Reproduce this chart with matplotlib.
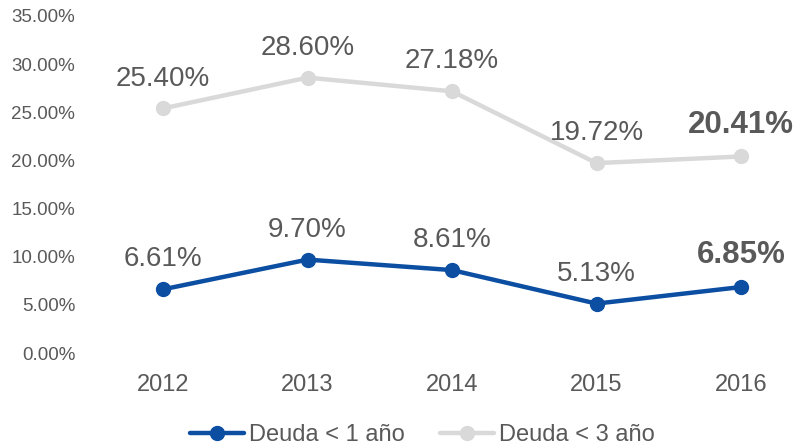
import matplotlib
matplotlib.use("Agg")
import matplotlib.pyplot as plt

years = ["2012", "2013", "2014", "2015", "2016"]
deuda_1 = [6.61, 9.70, 8.61, 5.13, 6.85]
deuda_3 = [25.40, 28.60, 27.18, 19.72, 20.41]
yticks = [0, 5, 10, 15, 20, 25, 30, 35]

plt.rcParams['font.family'] = ['Liberation Sans', 'DejaVu Sans']
txt = '#595959'
blue = '#0B4EA2'
gray = '#D9D9D9'

W, H = 798, 445
fig = plt.figure(figsize=(W / 100, H / 100), dpi=100)
left_px, right_px, top_px, bot_px = 85, 798, 16, 353
ax = fig.add_axes([left_px / W, (H - bot_px) / H, (right_px - left_px) / W, (bot_px - top_px) / H])

x = list(range(len(years)))
ax.plot(x, deuda_1, color=blue, lw=3.2, marker='o', ms=10, solid_capstyle='round', label='Deuda < 1 año', zorder=3)
ax.plot(x, deuda_3, color=gray, lw=3.2, marker='o', ms=10, solid_capstyle='round', label='Deuda < 3 año', zorder=3)

for series in (deuda_1, deuda_3):
    for i, v in enumerate(series):
        bold = (i == len(series) - 1)
        ax.annotate(f"{v:.2f}%", (i, v), xytext=(0, 17 if bold else 16.5), textcoords='offset points',
                    ha='center', va='baseline', fontsize=22.5 if bold else 20, color=txt,
                    fontweight='bold' if bold else 'normal')

step = 144.5
ax.set_xlim(-(163 - left_px) / step, (right_px - 163) / step)
ax.set_ylim(0, 35)
ax.set_xticks(x)
ax.set_xticklabels(years, fontsize=17, color=txt)
ax.set_yticks(yticks)
ax.set_yticklabels([f"{t:.2f}%" for t in yticks], fontsize=13.5, color=txt)
ax.tick_params(axis='x', length=0, pad=15)
ax.tick_params(axis='y', length=0, pad=7)
for s in ax.spines.values():
    s.set_visible(False)

fig.legend(loc='center', bbox_to_anchor=(422 / W, 10 / H), ncol=2, frameon=False,
           fontsize=17, handlelength=2.3, handletextpad=0.2, columnspacing=1.5,
           labelcolor=txt, borderpad=0, borderaxespad=0)

fig.savefig('out.png', dpi=100)
